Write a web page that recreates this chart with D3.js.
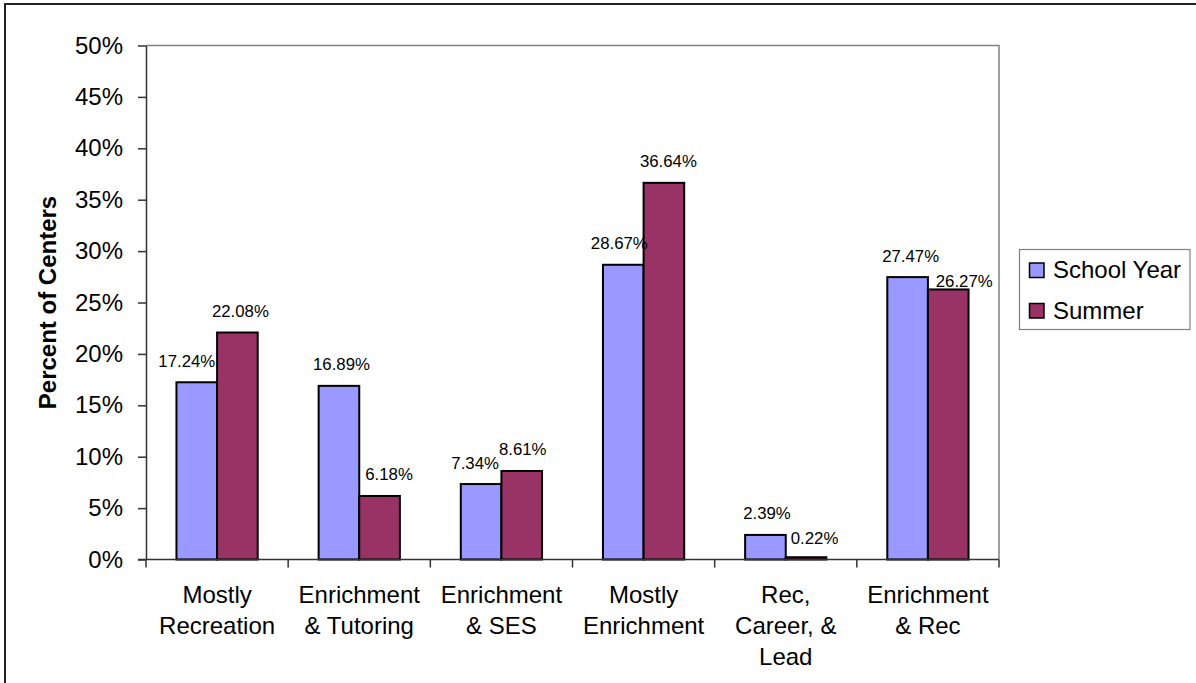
<!DOCTYPE html>
<html>
<head>
<meta charset="utf-8">
<script src="https://cdn.jsdelivr.net/npm/d3@7/dist/d3.min.js"></script>
<style>
  html, body { margin: 0; padding: 0; background: #fff; }
  svg { display: block; font-family: "Liberation Sans", Arial, sans-serif; }
</style>
</head>
<body>
<svg id="chart" width="1196" height="683"></svg>
<script>
// ---- data ----
const categories = [
  ["Mostly", "Recreation"],
  ["Enrichment", "& Tutoring"],
  ["Enrichment", "& SES"],
  ["Mostly", "Enrichment"],
  ["Rec,", "Career, &", "Lead"],
  ["Enrichment", "& Rec"]
];
const seriesNames = ["School Year", "Summer"];
const schoolYear = [17.24, 16.89, 7.34, 28.67, 2.39, 27.47];
const summer = [22.08, 6.18, 8.61, 36.64, 0.22, 26.27];
const yTicks = [0, 5, 10, 15, 20, 25, 30, 35, 40, 45, 50];
const yTitle = "Percent of Centers";

// ---- layout / style (not data) ----
const colors = ["#9999FF", "#993366"];
// manual data-label nudges [dx, dy] per series per category (as placed in the original)
const labelNudge = [
  [[-10, 0], [2.5, 0], [-6, 0], [-4, 0], [1.5, 0], [3, 0]],
  [[3, 0], [9.5, 0], [1, 0], [4.5, 0], [8.5, 2], [16, 13.5]]
];

const svg = d3.select("#chart");
const W = 1196, H = 683;
const plot = { left: 146, right: 999, top: 45.5, bottom: 559.5 };
const FS = "24px";

// outer frame
svg.append("rect")
  .attr("x", 5).attr("y", 4)
  .attr("width", W + 10).attr("height", H + 10)
  .attr("fill", "#fff").attr("stroke", "#222").attr("stroke-width", 2);

const keys = categories.map(c => c.join(" "));
const x0 = d3.scaleBand().domain(keys).range([plot.left, plot.right]).paddingInner(0).paddingOuter(0);
const x1 = d3.scaleBand().domain(seriesNames).range([0, x0.bandwidth()]).paddingInner(0).paddingOuter(0.75);
const y = d3.scaleLinear().domain([0, 50]).range([plot.bottom, plot.top]);

// plot area border (top & right gray)
svg.append("path")
  .attr("d", `M${plot.left},${plot.top}H${plot.right}V${plot.bottom}`)
  .attr("fill", "none").attr("stroke", "#808080").attr("stroke-width", 1.5);

// y axis
const yAxis = svg.append("g")
  .attr("transform", `translate(${plot.left},0)`)
  .call(d3.axisLeft(y).tickValues(yTicks).tickFormat(d => d + "%").tickSize(8).tickPadding(15).tickSizeOuter(0));
yAxis.select(".domain").attr("stroke", "#333").attr("stroke-width", 1.5);
yAxis.selectAll(".tick line").attr("stroke", "#333").attr("stroke-width", 1.5);
yAxis.selectAll(".tick text")
  .attr("fill", "#000")
  .style("font-size", FS)
  .style("font-family", "'Liberation Sans', Arial, sans-serif");

// y title
svg.append("text")
  .attr("transform", `translate(56,${(plot.top + plot.bottom) / 2}) rotate(-90)`)
  .attr("text-anchor", "middle")
  .style("font-size", FS).style("font-weight", "bold")
  .text(yTitle);

// bars
const data = keys.map((k, i) => ({ key: k, values: [schoolYear[i], summer[i]] }));
const groups = svg.append("g").selectAll("g")
  .data(data).join("g")
  .attr("transform", d => `translate(${x0(d.key)},0)`);

groups.selectAll("rect")
  .data(d => d.values.map((v, s) => ({ s, v })))
  .join("rect")
  .attr("x", d => x1(seriesNames[d.s]))
  .attr("y", d => y(d.v))
  .attr("width", x1.bandwidth())
  .attr("height", d => y(0) - y(d.v))
  .attr("fill", d => colors[d.s])
  .attr("stroke", "#000").attr("stroke-width", 2);

// data labels
groups.each(function (d, ci) {
  d3.select(this).selectAll("text.lbl")
    .data(d.values.map((v, s) => ({ s, v })))
    .join("text")
    .attr("class", "lbl")
    .attr("x", e => x1(seriesNames[e.s]) + x1.bandwidth() / 2 + labelNudge[e.s][ci][0])
    .attr("y", e => y(e.v) - 15.5 + labelNudge[e.s][ci][1])
    .attr("text-anchor", "middle")
    .style("font-size", "16.8px")
    .text(e => e.v.toFixed(2) + "%");
});

// x axis line and boundary ticks
svg.append("line")
  .attr("x1", plot.left - 8).attr("x2", plot.right)
  .attr("y1", plot.bottom).attr("y2", plot.bottom)
  .attr("stroke", "#333").attr("stroke-width", 1.5);
const bounds = keys.map(k => x0(k)).concat([x0(keys[keys.length - 1]) + x0.bandwidth()]);
svg.append("g").selectAll("line")
  .data(bounds).join("line")
  .attr("x1", d => d).attr("x2", d => d)
  .attr("y1", plot.bottom).attr("y2", plot.bottom + 8)
  .attr("stroke", "#333").attr("stroke-width", 1.5);

// category labels
svg.append("g").selectAll("text")
  .data(categories).join("text")
  .attr("text-anchor", "middle")
  .style("font-size", FS)
  .each(function (lines, i) {
    const cx = x0(keys[i]) + x0.bandwidth() / 2;
    d3.select(this).selectAll("tspan")
      .data(lines).join("tspan")
      .attr("x", cx)
      .attr("y", (l, j) => 603 + j * 31)
      .text(l => l);
  });

// legend
const lg = svg.append("g");
lg.append("rect")
  .attr("x", 1019.5).attr("y", 249.5).attr("width", 170.5).attr("height", 80)
  .attr("fill", "#fff").attr("stroke", "#808080").attr("stroke-width", 1.2);
const li = lg.selectAll("g.item").data(seriesNames).join("g")
  .attr("class", "item")
  .attr("transform", (d, i) => `translate(0,${i * 40.5})`);
li.append("rect")
  .attr("x", 1029.5).attr("y", 263).attr("width", 14.5).attr("height", 14.5)
  .attr("fill", (d, i) => colors[i]).attr("stroke", "#000").attr("stroke-width", 1.5);
li.append("text")
  .attr("x", 1053).attr("y", 278.3)
  .style("font-size", FS)
  .text(d => d);
</script>
</body>
</html>
